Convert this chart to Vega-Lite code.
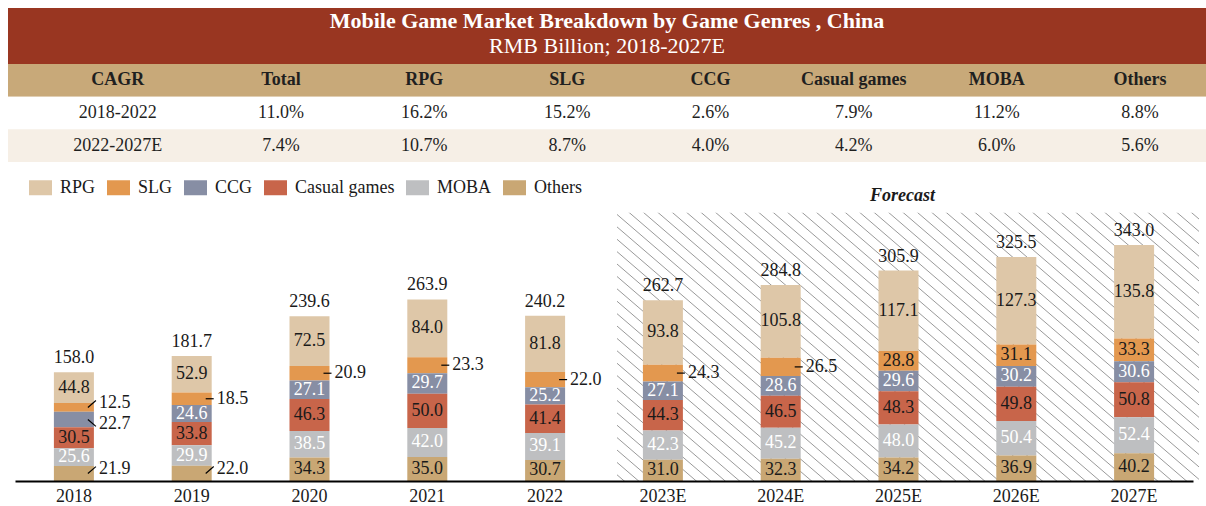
{
  "$schema": "https://vega.github.io/schema/vega-lite/v6.json",
  "padding": {"left": 8, "top": 8, "right": 0, "bottom": 0},
  "spacing": 0,
  "background": "white",
  "config": {
    "view": {"stroke": null},
    "font": "Liberation Serif",
    "text": {"font": "Liberation Serif", "fontSize": 18, "color": "#1a1a1a"},
    "axisX": {"domain": true, "domainColor": "#000000", "domainWidth": 2, "ticks": false, "tickSize": 0, "labelPadding": 6, "labelFont": "Liberation Serif", "labelFontSize": 18, "labelColor": "#1a1a1a", "labelAngle": 0, "grid": false}
  },
  "datasets": {
    "banner": [
      {"line": "title", "text": "Mobile Game Market Breakdown by Game Genres , China"},
      {"line": "subtitle", "text": "RMB Billion; 2018-2027E"}
    ],
    "cagr": [
      {"row": "CAGR", "col": "CAGR", "text": "CAGR"},
      {"row": "CAGR", "col": "Total", "text": "Total"},
      {"row": "CAGR", "col": "RPG", "text": "RPG"},
      {"row": "CAGR", "col": "SLG", "text": "SLG"},
      {"row": "CAGR", "col": "CCG", "text": "CCG"},
      {"row": "CAGR", "col": "Casual games", "text": "Casual games"},
      {"row": "CAGR", "col": "MOBA", "text": "MOBA"},
      {"row": "CAGR", "col": "Others", "text": "Others"},
      {"row": "2018-2022", "col": "CAGR", "text": "2018-2022"},
      {"row": "2018-2022", "col": "Total", "text": "11.0%"},
      {"row": "2018-2022", "col": "RPG", "text": "16.2%"},
      {"row": "2018-2022", "col": "SLG", "text": "15.2%"},
      {"row": "2018-2022", "col": "CCG", "text": "2.6%"},
      {"row": "2018-2022", "col": "Casual games", "text": "7.9%"},
      {"row": "2018-2022", "col": "MOBA", "text": "11.2%"},
      {"row": "2018-2022", "col": "Others", "text": "8.8%"},
      {"row": "2022-2027E", "col": "CAGR", "text": "2022-2027E"},
      {"row": "2022-2027E", "col": "Total", "text": "7.4%"},
      {"row": "2022-2027E", "col": "RPG", "text": "10.7%"},
      {"row": "2022-2027E", "col": "SLG", "text": "8.7%"},
      {"row": "2022-2027E", "col": "CCG", "text": "4.0%"},
      {"row": "2022-2027E", "col": "Casual games", "text": "4.2%"},
      {"row": "2022-2027E", "col": "MOBA", "text": "6.0%"},
      {"row": "2022-2027E", "col": "Others", "text": "5.6%"}
    ],
    "bars": [
      {"year": "2018", "genre": "RPG", "value": 44.8},
      {"year": "2018", "genre": "SLG", "value": 12.5},
      {"year": "2018", "genre": "CCG", "value": 22.7},
      {"year": "2018", "genre": "Casual games", "value": 30.5},
      {"year": "2018", "genre": "MOBA", "value": 25.6},
      {"year": "2018", "genre": "Others", "value": 21.9},
      {"year": "2019", "genre": "RPG", "value": 52.9},
      {"year": "2019", "genre": "SLG", "value": 18.5},
      {"year": "2019", "genre": "CCG", "value": 24.6},
      {"year": "2019", "genre": "Casual games", "value": 33.8},
      {"year": "2019", "genre": "MOBA", "value": 29.9},
      {"year": "2019", "genre": "Others", "value": 22.0},
      {"year": "2020", "genre": "RPG", "value": 72.5},
      {"year": "2020", "genre": "SLG", "value": 20.9},
      {"year": "2020", "genre": "CCG", "value": 27.1},
      {"year": "2020", "genre": "Casual games", "value": 46.3},
      {"year": "2020", "genre": "MOBA", "value": 38.5},
      {"year": "2020", "genre": "Others", "value": 34.3},
      {"year": "2021", "genre": "RPG", "value": 84.0},
      {"year": "2021", "genre": "SLG", "value": 23.3},
      {"year": "2021", "genre": "CCG", "value": 29.7},
      {"year": "2021", "genre": "Casual games", "value": 50.0},
      {"year": "2021", "genre": "MOBA", "value": 42.0},
      {"year": "2021", "genre": "Others", "value": 35.0},
      {"year": "2022", "genre": "RPG", "value": 81.8},
      {"year": "2022", "genre": "SLG", "value": 22.0},
      {"year": "2022", "genre": "CCG", "value": 25.2},
      {"year": "2022", "genre": "Casual games", "value": 41.4},
      {"year": "2022", "genre": "MOBA", "value": 39.1},
      {"year": "2022", "genre": "Others", "value": 30.7},
      {"year": "2023E", "genre": "RPG", "value": 93.8},
      {"year": "2023E", "genre": "SLG", "value": 24.3},
      {"year": "2023E", "genre": "CCG", "value": 27.1},
      {"year": "2023E", "genre": "Casual games", "value": 44.3},
      {"year": "2023E", "genre": "MOBA", "value": 42.3},
      {"year": "2023E", "genre": "Others", "value": 31.0},
      {"year": "2024E", "genre": "RPG", "value": 105.8},
      {"year": "2024E", "genre": "SLG", "value": 26.5},
      {"year": "2024E", "genre": "CCG", "value": 28.6},
      {"year": "2024E", "genre": "Casual games", "value": 46.5},
      {"year": "2024E", "genre": "MOBA", "value": 45.2},
      {"year": "2024E", "genre": "Others", "value": 32.3},
      {"year": "2025E", "genre": "RPG", "value": 117.1},
      {"year": "2025E", "genre": "SLG", "value": 28.8},
      {"year": "2025E", "genre": "CCG", "value": 29.6},
      {"year": "2025E", "genre": "Casual games", "value": 48.3},
      {"year": "2025E", "genre": "MOBA", "value": 48.0},
      {"year": "2025E", "genre": "Others", "value": 34.2},
      {"year": "2026E", "genre": "RPG", "value": 127.3},
      {"year": "2026E", "genre": "SLG", "value": 31.1},
      {"year": "2026E", "genre": "CCG", "value": 30.2},
      {"year": "2026E", "genre": "Casual games", "value": 49.8},
      {"year": "2026E", "genre": "MOBA", "value": 50.4},
      {"year": "2026E", "genre": "Others", "value": 36.9},
      {"year": "2027E", "genre": "RPG", "value": 135.8},
      {"year": "2027E", "genre": "SLG", "value": 33.3},
      {"year": "2027E", "genre": "CCG", "value": 30.6},
      {"year": "2027E", "genre": "Casual games", "value": 50.8},
      {"year": "2027E", "genre": "MOBA", "value": 52.4},
      {"year": "2027E", "genre": "Others", "value": 40.2}
    ],
    "totals": [
      {"year": "2018", "total": 158.0},
      {"year": "2019", "total": 181.7},
      {"year": "2020", "total": 239.6},
      {"year": "2021", "total": 263.9},
      {"year": "2022", "total": 240.2},
      {"year": "2023E", "total": 262.7},
      {"year": "2024E", "total": 284.8},
      {"year": "2025E", "total": 305.9},
      {"year": "2026E", "total": 325.5},
      {"year": "2027E", "total": 343.0}
    ],
    "forecast": [
      {"from": "2023E", "to": "2027E", "label": "Forecast"}
    ]
  },
  "vconcat": [
    {
      "width": 1198,
      "height": 56,
      "view": {"fill": "#993621", "stroke": null},
      "data": {"name": "banner"},
      "layer": [
        {
          "transform": [{"filter": "datum.line == 'title'"}],
          "mark": {"type": "text", "fontSize": 22, "fontWeight": "bold", "color": "white", "baseline": "middle"},
          "encoding": {
            "y": {"field": "line", "type": "nominal", "axis": null, "scale": {"type": "point", "domain": ["title", "subtitle"], "range": [13, 38], "padding": 0}},
            "text": {"field": "text"}
          }
        },
        {
          "transform": [{"filter": "datum.line == 'subtitle'"}],
          "mark": {"type": "text", "fontSize": 22, "fontWeight": "normal", "color": "white", "baseline": "middle"},
          "encoding": {
            "y": {"field": "line", "type": "nominal", "axis": null, "scale": {"type": "point", "domain": ["title", "subtitle"], "range": [13, 38], "padding": 0}},
            "text": {"field": "text"}
          }
        }
      ]
    },
    {
      "width": 1198,
      "height": 98,
      "data": {"name": "cagr"},
      "layer": [
        {
          "transform": [{"filter": "datum.col == 'CAGR'"}],
          "mark": {"type": "rect"},
          "encoding": {
            "y": {"field": "row", "type": "nominal", "axis": null, "scale": {"type": "band", "domain": ["CAGR", "2018-2022", "2022-2027E"], "paddingInner": 0, "paddingOuter": 0}},
            "fill": {"field": "row", "type": "nominal", "legend": null, "scale": {"domain": ["CAGR", "2018-2022", "2022-2027E"], "range": ["#C8A979", "#FFFFFF", "#F6EFE6"]}}
          }
        },
        {
          "transform": [{"filter": "datum.row == 'CAGR' && datum.col != 'CAGR'"}],
          "mark": {"type": "text", "fontWeight": "bold", "baseline": "middle", "color": "#1f1f1f"},
          "encoding": {
            "x": {"field": "col", "type": "nominal", "axis": null, "scale": {"type": "point", "domain": ["CAGR", "Total", "RPG", "SLG", "CCG", "Casual games", "MOBA", "Others"], "range": [129.8, 1132], "padding": 0}},
            "y": {"field": "row", "type": "nominal", "axis": null, "scale": {"type": "band", "domain": ["CAGR", "2018-2022", "2022-2027E"], "paddingInner": 0, "paddingOuter": 0}},
            "text": {"field": "text"}
          }
        },
        {
          "transform": [{"filter": "datum.row == 'CAGR' && datum.col == 'CAGR'"}],
          "mark": {"type": "text", "fontWeight": "bold", "baseline": "middle", "dx": -20, "color": "#1f1f1f"},
          "encoding": {
            "x": {"field": "col", "type": "nominal", "axis": null, "scale": {"type": "point", "domain": ["CAGR", "Total", "RPG", "SLG", "CCG", "Casual games", "MOBA", "Others"], "range": [129.8, 1132], "padding": 0}},
            "y": {"field": "row", "type": "nominal", "axis": null, "scale": {"type": "band", "domain": ["CAGR", "2018-2022", "2022-2027E"], "paddingInner": 0, "paddingOuter": 0}},
            "text": {"field": "text"}
          }
        },
        {
          "transform": [{"filter": "datum.row != 'CAGR' && datum.col != 'CAGR'"}],
          "mark": {"type": "text", "baseline": "middle", "color": "#1f1f1f"},
          "encoding": {
            "x": {"field": "col", "type": "nominal", "axis": null, "scale": {"type": "point", "domain": ["CAGR", "Total", "RPG", "SLG", "CCG", "Casual games", "MOBA", "Others"], "range": [129.8, 1132], "padding": 0}},
            "y": {"field": "row", "type": "nominal", "axis": null, "scale": {"type": "band", "domain": ["CAGR", "2018-2022", "2022-2027E"], "paddingInner": 0, "paddingOuter": 0}},
            "text": {"field": "text"}
          }
        },
        {
          "transform": [{"filter": "datum.row != 'CAGR' && datum.col == 'CAGR'"}],
          "mark": {"type": "text", "baseline": "middle", "dx": -20, "color": "#1f1f1f"},
          "encoding": {
            "x": {"field": "col", "type": "nominal", "axis": null, "scale": {"type": "point", "domain": ["CAGR", "Total", "RPG", "SLG", "CCG", "Casual games", "MOBA", "Others"], "range": [129.8, 1132], "padding": 0}},
            "y": {"field": "row", "type": "nominal", "axis": null, "scale": {"type": "band", "domain": ["CAGR", "2018-2022", "2022-2027E"], "paddingInner": 0, "paddingOuter": 0}},
            "text": {"field": "text"}
          }
        }
      ]
    },
    {
      "width": 1185,
      "height": 319,
      "layer": [
        {
          "data": {"name": "forecast"},
          "mark": {
            "type": "rect",
            "xOffset": 13,
            "x2Offset": 6,
            "fill": {
              "gradient": "linear", "x1": 0, "y1": 1, "x2": 1.193, "y2": 0.3604,
              "stops": [
                {"offset": 0.0068, "color": "#fff"}, {"offset": 0.0081, "color": "#999"}, {"offset": 0.0094, "color": "#fff"},
                {"offset": 0.0229, "color": "#fff"}, {"offset": 0.0242, "color": "#999"}, {"offset": 0.0255, "color": "#fff"},
                {"offset": 0.0390, "color": "#fff"}, {"offset": 0.0403, "color": "#999"}, {"offset": 0.0416, "color": "#fff"},
                {"offset": 0.0552, "color": "#fff"}, {"offset": 0.0565, "color": "#999"}, {"offset": 0.0578, "color": "#fff"},
                {"offset": 0.0713, "color": "#fff"}, {"offset": 0.0726, "color": "#999"}, {"offset": 0.0739, "color": "#fff"},
                {"offset": 0.0874, "color": "#fff"}, {"offset": 0.0887, "color": "#999"}, {"offset": 0.0900, "color": "#fff"},
                {"offset": 0.1035, "color": "#fff"}, {"offset": 0.1048, "color": "#999"}, {"offset": 0.1061, "color": "#fff"},
                {"offset": 0.1197, "color": "#fff"}, {"offset": 0.1210, "color": "#999"}, {"offset": 0.1223, "color": "#fff"},
                {"offset": 0.1358, "color": "#fff"}, {"offset": 0.1371, "color": "#999"}, {"offset": 0.1384, "color": "#fff"},
                {"offset": 0.1519, "color": "#fff"}, {"offset": 0.1532, "color": "#999"}, {"offset": 0.1545, "color": "#fff"},
                {"offset": 0.1681, "color": "#fff"}, {"offset": 0.1694, "color": "#999"}, {"offset": 0.1707, "color": "#fff"},
                {"offset": 0.1842, "color": "#fff"}, {"offset": 0.1855, "color": "#999"}, {"offset": 0.1868, "color": "#fff"},
                {"offset": 0.2003, "color": "#fff"}, {"offset": 0.2016, "color": "#999"}, {"offset": 0.2029, "color": "#fff"},
                {"offset": 0.2164, "color": "#fff"}, {"offset": 0.2177, "color": "#999"}, {"offset": 0.2190, "color": "#fff"},
                {"offset": 0.2326, "color": "#fff"}, {"offset": 0.2339, "color": "#999"}, {"offset": 0.2352, "color": "#fff"},
                {"offset": 0.2487, "color": "#fff"}, {"offset": 0.2500, "color": "#999"}, {"offset": 0.2513, "color": "#fff"},
                {"offset": 0.2648, "color": "#fff"}, {"offset": 0.2661, "color": "#999"}, {"offset": 0.2674, "color": "#fff"},
                {"offset": 0.2810, "color": "#fff"}, {"offset": 0.2823, "color": "#999"}, {"offset": 0.2836, "color": "#fff"},
                {"offset": 0.2971, "color": "#fff"}, {"offset": 0.2984, "color": "#999"}, {"offset": 0.2997, "color": "#fff"},
                {"offset": 0.3132, "color": "#fff"}, {"offset": 0.3145, "color": "#999"}, {"offset": 0.3158, "color": "#fff"},
                {"offset": 0.3293, "color": "#fff"}, {"offset": 0.3306, "color": "#999"}, {"offset": 0.3319, "color": "#fff"},
                {"offset": 0.3455, "color": "#fff"}, {"offset": 0.3468, "color": "#999"}, {"offset": 0.3481, "color": "#fff"},
                {"offset": 0.3616, "color": "#fff"}, {"offset": 0.3629, "color": "#999"}, {"offset": 0.3642, "color": "#fff"},
                {"offset": 0.3777, "color": "#fff"}, {"offset": 0.3790, "color": "#999"}, {"offset": 0.3803, "color": "#fff"},
                {"offset": 0.3939, "color": "#fff"}, {"offset": 0.3952, "color": "#999"}, {"offset": 0.3965, "color": "#fff"},
                {"offset": 0.4100, "color": "#fff"}, {"offset": 0.4113, "color": "#999"}, {"offset": 0.4126, "color": "#fff"},
                {"offset": 0.4261, "color": "#fff"}, {"offset": 0.4274, "color": "#999"}, {"offset": 0.4287, "color": "#fff"},
                {"offset": 0.4422, "color": "#fff"}, {"offset": 0.4435, "color": "#999"}, {"offset": 0.4448, "color": "#fff"},
                {"offset": 0.4584, "color": "#fff"}, {"offset": 0.4597, "color": "#999"}, {"offset": 0.4610, "color": "#fff"},
                {"offset": 0.4745, "color": "#fff"}, {"offset": 0.4758, "color": "#999"}, {"offset": 0.4771, "color": "#fff"},
                {"offset": 0.4906, "color": "#fff"}, {"offset": 0.4919, "color": "#999"}, {"offset": 0.4932, "color": "#fff"},
                {"offset": 0.5068, "color": "#fff"}, {"offset": 0.5081, "color": "#999"}, {"offset": 0.5094, "color": "#fff"},
                {"offset": 0.5229, "color": "#fff"}, {"offset": 0.5242, "color": "#999"}, {"offset": 0.5255, "color": "#fff"},
                {"offset": 0.5390, "color": "#fff"}, {"offset": 0.5403, "color": "#999"}, {"offset": 0.5416, "color": "#fff"},
                {"offset": 0.5552, "color": "#fff"}, {"offset": 0.5565, "color": "#999"}, {"offset": 0.5578, "color": "#fff"},
                {"offset": 0.5713, "color": "#fff"}, {"offset": 0.5726, "color": "#999"}, {"offset": 0.5739, "color": "#fff"},
                {"offset": 0.5874, "color": "#fff"}, {"offset": 0.5887, "color": "#999"}, {"offset": 0.5900, "color": "#fff"},
                {"offset": 0.6035, "color": "#fff"}, {"offset": 0.6048, "color": "#999"}, {"offset": 0.6061, "color": "#fff"},
                {"offset": 0.6197, "color": "#fff"}, {"offset": 0.6210, "color": "#999"}, {"offset": 0.6223, "color": "#fff"},
                {"offset": 0.6358, "color": "#fff"}, {"offset": 0.6371, "color": "#999"}, {"offset": 0.6384, "color": "#fff"},
                {"offset": 0.6519, "color": "#fff"}, {"offset": 0.6532, "color": "#999"}, {"offset": 0.6545, "color": "#fff"},
                {"offset": 0.6681, "color": "#fff"}, {"offset": 0.6694, "color": "#999"}, {"offset": 0.6707, "color": "#fff"},
                {"offset": 0.6842, "color": "#fff"}, {"offset": 0.6855, "color": "#999"}, {"offset": 0.6868, "color": "#fff"},
                {"offset": 0.7003, "color": "#fff"}, {"offset": 0.7016, "color": "#999"}, {"offset": 0.7029, "color": "#fff"},
                {"offset": 0.7164, "color": "#fff"}, {"offset": 0.7177, "color": "#999"}, {"offset": 0.7190, "color": "#fff"},
                {"offset": 0.7326, "color": "#fff"}, {"offset": 0.7339, "color": "#999"}, {"offset": 0.7352, "color": "#fff"},
                {"offset": 0.7487, "color": "#fff"}, {"offset": 0.7500, "color": "#999"}, {"offset": 0.7513, "color": "#fff"},
                {"offset": 0.7648, "color": "#fff"}, {"offset": 0.7661, "color": "#999"}, {"offset": 0.7674, "color": "#fff"},
                {"offset": 0.7810, "color": "#fff"}, {"offset": 0.7823, "color": "#999"}, {"offset": 0.7836, "color": "#fff"},
                {"offset": 0.7971, "color": "#fff"}, {"offset": 0.7984, "color": "#999"}, {"offset": 0.7997, "color": "#fff"},
                {"offset": 0.8132, "color": "#fff"}, {"offset": 0.8145, "color": "#999"}, {"offset": 0.8158, "color": "#fff"},
                {"offset": 0.8293, "color": "#fff"}, {"offset": 0.8306, "color": "#999"}, {"offset": 0.8319, "color": "#fff"},
                {"offset": 0.8455, "color": "#fff"}, {"offset": 0.8468, "color": "#999"}, {"offset": 0.8481, "color": "#fff"},
                {"offset": 0.8616, "color": "#fff"}, {"offset": 0.8629, "color": "#999"}, {"offset": 0.8642, "color": "#fff"},
                {"offset": 0.8777, "color": "#fff"}, {"offset": 0.8790, "color": "#999"}, {"offset": 0.8803, "color": "#fff"},
                {"offset": 0.8939, "color": "#fff"}, {"offset": 0.8952, "color": "#999"}, {"offset": 0.8965, "color": "#fff"},
                {"offset": 0.9100, "color": "#fff"}, {"offset": 0.9113, "color": "#999"}, {"offset": 0.9126, "color": "#fff"},
                {"offset": 0.9261, "color": "#fff"}, {"offset": 0.9274, "color": "#999"}, {"offset": 0.9287, "color": "#fff"},
                {"offset": 0.9422, "color": "#fff"}, {"offset": 0.9435, "color": "#999"}, {"offset": 0.9448, "color": "#fff"},
                {"offset": 0.9584, "color": "#fff"}, {"offset": 0.9597, "color": "#999"}, {"offset": 0.9610, "color": "#fff"},
                {"offset": 0.9745, "color": "#fff"}, {"offset": 0.9758, "color": "#999"}, {"offset": 0.9771, "color": "#fff"},
                {"offset": 0.9906, "color": "#fff"}, {"offset": 0.9919, "color": "#999"}, {"offset": 0.9932, "color": "#fff"}
              ]
            }
          },
          "encoding": {
            "x": {"field": "from", "type": "nominal", "bandPosition": 0, "title": null, "axis": {"zindex": 1}, "scale": {"domain": ["2018", "2019", "2020", "2021", "2022", "2023E", "2024E", "2025E", "2026E", "2027E"], "range": [7, 1185], "paddingInner": 0, "paddingOuter": 0}},
            "x2": {"field": "to", "bandPosition": 1},
            "y": {"datum": 0, "type": "quantitative", "axis": null, "scale": {"domain": [0, 463.7], "nice": false}},
            "y2": {"datum": 390}
          }
        },
        {
          "data": {"name": "bars"},
          "transform": [
            {"calculate": "indexof(['Others','MOBA','Casual games','CCG','SLG','RPG'], datum.genre)", "as": "rank"},
            {"stack": "value", "groupby": ["year"], "sort": [{"field": "rank", "order": "ascending"}], "as": ["v0", "v1"]},
            {"calculate": "(datum.v0 + datum.v1) / 2", "as": "mid"},
            {"calculate": "datum.value < 23 || (datum.genre == 'SLG' && datum.value < 27)", "as": "outside"},
            {"calculate": "(datum.year == '2018' || datum.genre == 'Others') ? (datum.genre == 'CCG' ? -1 : 1) : 0", "as": "tilt"}
          ],
          "layer": [
            {
              "mark": {"type": "bar", "size": 40},
              "encoding": {
                "x": {"field": "year", "type": "nominal", "title": null, "axis": {"zindex": 1}, "scale": {"domain": ["2018", "2019", "2020", "2021", "2022", "2023E", "2024E", "2025E", "2026E", "2027E"], "range": [7, 1185], "paddingInner": 0, "paddingOuter": 0}},
                "y": {"field": "v1", "type": "quantitative", "axis": null, "scale": {"domain": [0, 463.7], "nice": false}},
                "y2": {"field": "v0"},
                "color": {
                  "field": "genre", "type": "nominal",
                  "scale": {"domain": ["RPG", "SLG", "CCG", "Casual games", "MOBA", "Others"], "range": ["#DEC7A8", "#E3984F", "#878EA4", "#C8654A", "#BEBFC1", "#C9A774"]},
                  "legend": {"orient": "none", "legendX": 21, "legendY": 168, "direction": "horizontal", "title": null, "symbolType": "M-1,-0.652H1V0.652H-1Z", "symbolSize": 529, "symbolStrokeWidth": 0, "symbolOpacity": 1, "labelFont": "Liberation Serif", "labelFontSize": 18, "labelColor": "#1a1a1a", "labelOffset": 8, "columnPadding": 11, "padding": 0}
                }
              }
            },
            {
              "transform": [{"filter": "!datum.outside"}],
              "mark": {"type": "text", "baseline": "middle", "fontSize": 18},
              "encoding": {
                "x": {"field": "year", "type": "nominal", "title": null, "axis": {"zindex": 1}, "scale": {"domain": ["2018", "2019", "2020", "2021", "2022", "2023E", "2024E", "2025E", "2026E", "2027E"], "range": [7, 1185], "paddingInner": 0, "paddingOuter": 0}},
                "y": {"field": "mid", "type": "quantitative", "axis": null, "scale": {"domain": [0, 463.7], "nice": false}},
                "text": {"field": "value", "type": "quantitative", "format": ".1f"},
                "color": {"condition": {"test": "datum.genre == 'CCG' || datum.genre == 'MOBA'", "value": "#ffffff"}, "value": "#1a1a1a"}
              }
            },
            {
              "transform": [{"filter": "datum.outside"}, {"calculate": "datum.mid + datum.tilt * 10", "as": "lend"}],
              "mark": {"type": "rule", "xOffset": 14, "x2Offset": 22, "color": "#000000", "strokeWidth": 1.2},
              "encoding": {
                "x": {"field": "year", "type": "nominal", "bandPosition": 0.5, "title": null, "axis": {"zindex": 1}, "scale": {"domain": ["2018", "2019", "2020", "2021", "2022", "2023E", "2024E", "2025E", "2026E", "2027E"], "range": [7, 1185], "paddingInner": 0, "paddingOuter": 0}},
                "x2": {"field": "year", "bandPosition": 0.5},
                "y": {"field": "mid", "type": "quantitative", "axis": null, "scale": {"domain": [0, 463.7], "nice": false}},
                "y2": {"field": "lend"}
              }
            },
            {
              "transform": [{"filter": "datum.outside"}, {"calculate": "datum.mid + datum.tilt * 6", "as": "ly"}],
              "mark": {"type": "text", "baseline": "middle", "align": "left", "dx": 25, "fontSize": 18, "color": "#1a1a1a"},
              "encoding": {
                "x": {"field": "year", "type": "nominal", "title": null, "axis": {"zindex": 1}, "scale": {"domain": ["2018", "2019", "2020", "2021", "2022", "2023E", "2024E", "2025E", "2026E", "2027E"], "range": [7, 1185], "paddingInner": 0, "paddingOuter": 0}},
                "y": {"field": "ly", "type": "quantitative", "axis": null, "scale": {"domain": [0, 463.7], "nice": false}},
                "text": {"field": "value", "type": "quantitative", "format": ".1f"}
              }
            }
          ]
        },
        {
          "data": {"name": "totals"},
          "mark": {"type": "text", "baseline": "alphabetic", "dy": -9, "fontSize": 18, "color": "#1a1a1a"},
          "encoding": {
            "x": {"field": "year", "type": "nominal", "title": null, "axis": {"zindex": 1}, "scale": {"domain": ["2018", "2019", "2020", "2021", "2022", "2023E", "2024E", "2025E", "2026E", "2027E"], "range": [7, 1185], "paddingInner": 0, "paddingOuter": 0}},
            "y": {"field": "total", "type": "quantitative", "axis": null, "scale": {"domain": [0, 463.7], "nice": false}},
            "text": {"field": "total", "type": "quantitative", "format": ".1f"}
          }
        },
        {
          "data": {"name": "forecast"},
          "mark": {"type": "text", "baseline": "middle", "dy": -17, "dx": 4, "fontSize": 18, "fontWeight": "bold", "fontStyle": "italic", "color": "#1a1a1a"},
          "encoding": {
            "x": {"datum": "2025E", "type": "nominal", "title": null, "axis": {"zindex": 1}, "scale": {"domain": ["2018", "2019", "2020", "2021", "2022", "2023E", "2024E", "2025E", "2026E", "2027E"], "range": [7, 1185], "paddingInner": 0, "paddingOuter": 0}},
            "y": {"datum": 390, "type": "quantitative", "axis": null, "scale": {"domain": [0, 463.7], "nice": false}},
            "text": {"field": "label"}
          }
        }
      ]
    }
  ]
}
